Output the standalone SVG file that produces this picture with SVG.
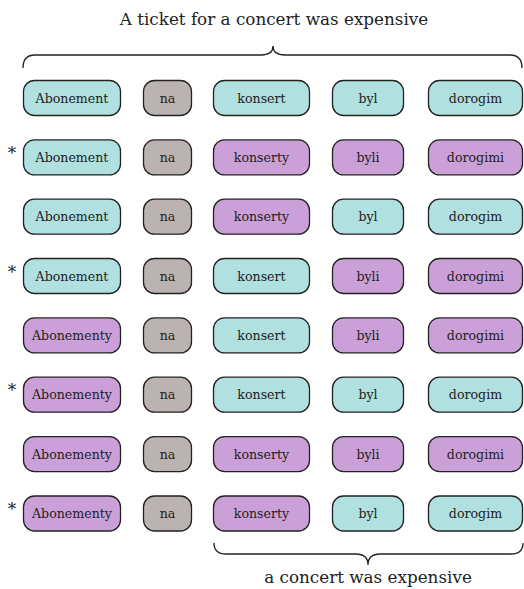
<svg xmlns="http://www.w3.org/2000/svg" width="524" height="589" viewBox="0 0 524 589">
<style>
text{font-family:'DejaVu Serif',serif;fill:#222}
.n rect{stroke:#222;stroke-width:1.3}
.n text{font-size:12.6px;text-anchor:middle;dominant-baseline:central}
.c{fill:#b0e0e0}
.p{fill:#cba0d8}
.g{fill:#bbb3b1}
.brace{fill:none;stroke:#222;stroke-width:1.3}
.ttl{font-size:16.8px;text-anchor:middle}
.ast{font-size:17px;text-anchor:middle}
</style>
<rect width="524" height="589" fill="#fff"/>
<text class="ttl" x="274" y="25">A ticket for a concert was expensive</text>
<text class="ttl" x="368" y="583">a concert was expensive</text>
<g id="connectors">
<path class="brace" d="M23,68 Q23,55 35,55 L261,55 Q273,55 273,46 Q273,55 285,55 L510,55 Q522,55 522,68"/>
<path class="brace" d="M214,543 Q214,554 226,554 L356,554 Q368,554 368,565 Q368,554 380,554 L511,554 Q523,554 523,543"/>
</g>
<g id="r1c1" class="n"><rect class="c" x="23.5" y="80.5" width="97" height="35" rx="11"/><text x="72" y="98">Abonement</text></g>
<g id="r1c2" class="n"><rect class="g" x="143.5" y="80.5" width="48" height="35" rx="11"/><text x="167.5" y="98">na</text></g>
<g id="r1c3" class="n"><rect class="c" x="213.5" y="80.5" width="96" height="35" rx="11"/><text x="261.5" y="98">konsert</text></g>
<g id="r1c4" class="n"><rect class="c" x="332.5" y="80.5" width="71" height="35" rx="11"/><text x="368" y="98">byl</text></g>
<g id="r1c5" class="n"><rect class="c" x="428.5" y="80.5" width="94" height="35" rx="11"/><text x="475.5" y="98">dorogim</text></g>
<text class="ast" x="12" y="159">*</text>
<g id="r2c1" class="n"><rect class="c" x="23.5" y="139.9" width="97" height="35" rx="11"/><text x="72" y="157.4">Abonement</text></g>
<g id="r2c2" class="n"><rect class="g" x="143.5" y="139.9" width="48" height="35" rx="11"/><text x="167.5" y="157.4">na</text></g>
<g id="r2c3" class="n"><rect class="p" x="213.5" y="139.9" width="96" height="35" rx="11"/><text x="261.5" y="157.4">konserty</text></g>
<g id="r2c4" class="n"><rect class="p" x="332.5" y="139.9" width="71" height="35" rx="11"/><text x="368" y="157.4">byli</text></g>
<g id="r2c5" class="n"><rect class="p" x="428.5" y="139.9" width="94" height="35" rx="11"/><text x="475.5" y="157.4">dorogimi</text></g>
<g id="r3c1" class="n"><rect class="c" x="23.5" y="199.2" width="97" height="35" rx="11"/><text x="72" y="216.7">Abonement</text></g>
<g id="r3c2" class="n"><rect class="g" x="143.5" y="199.2" width="48" height="35" rx="11"/><text x="167.5" y="216.7">na</text></g>
<g id="r3c3" class="n"><rect class="p" x="213.5" y="199.2" width="96" height="35" rx="11"/><text x="261.5" y="216.7">konserty</text></g>
<g id="r3c4" class="n"><rect class="c" x="332.5" y="199.2" width="71" height="35" rx="11"/><text x="368" y="216.7">byl</text></g>
<g id="r3c5" class="n"><rect class="c" x="428.5" y="199.2" width="94" height="35" rx="11"/><text x="475.5" y="216.7">dorogim</text></g>
<text class="ast" x="12" y="277.6">*</text>
<g id="r4c1" class="n"><rect class="c" x="23.5" y="258.5" width="97" height="35" rx="11"/><text x="72" y="276">Abonement</text></g>
<g id="r4c2" class="n"><rect class="g" x="143.5" y="258.5" width="48" height="35" rx="11"/><text x="167.5" y="276">na</text></g>
<g id="r4c3" class="n"><rect class="c" x="213.5" y="258.5" width="96" height="35" rx="11"/><text x="261.5" y="276">konsert</text></g>
<g id="r4c4" class="n"><rect class="p" x="332.5" y="258.5" width="71" height="35" rx="11"/><text x="368" y="276">byli</text></g>
<g id="r4c5" class="n"><rect class="p" x="428.5" y="258.5" width="94" height="35" rx="11"/><text x="475.5" y="276">dorogimi</text></g>
<g id="r5c1" class="n"><rect class="p" x="23.5" y="317.9" width="97" height="35" rx="11"/><text x="72" y="335.4">Abonementy</text></g>
<g id="r5c2" class="n"><rect class="g" x="143.5" y="317.9" width="48" height="35" rx="11"/><text x="167.5" y="335.4">na</text></g>
<g id="r5c3" class="n"><rect class="c" x="213.5" y="317.9" width="96" height="35" rx="11"/><text x="261.5" y="335.4">konsert</text></g>
<g id="r5c4" class="n"><rect class="p" x="332.5" y="317.9" width="71" height="35" rx="11"/><text x="368" y="335.4">byli</text></g>
<g id="r5c5" class="n"><rect class="p" x="428.5" y="317.9" width="94" height="35" rx="11"/><text x="475.5" y="335.4">dorogimi</text></g>
<text class="ast" x="12" y="396.3">*</text>
<g id="r6c1" class="n"><rect class="p" x="23.5" y="377.2" width="97" height="35" rx="11"/><text x="72" y="394.7">Abonementy</text></g>
<g id="r6c2" class="n"><rect class="g" x="143.5" y="377.2" width="48" height="35" rx="11"/><text x="167.5" y="394.7">na</text></g>
<g id="r6c3" class="n"><rect class="c" x="213.5" y="377.2" width="96" height="35" rx="11"/><text x="261.5" y="394.7">konsert</text></g>
<g id="r6c4" class="n"><rect class="c" x="332.5" y="377.2" width="71" height="35" rx="11"/><text x="368" y="394.7">byl</text></g>
<g id="r6c5" class="n"><rect class="c" x="428.5" y="377.2" width="94" height="35" rx="11"/><text x="475.5" y="394.7">dorogim</text></g>
<g id="r7c1" class="n"><rect class="p" x="23.5" y="436.6" width="97" height="35" rx="11"/><text x="72" y="454.1">Abonementy</text></g>
<g id="r7c2" class="n"><rect class="g" x="143.5" y="436.6" width="48" height="35" rx="11"/><text x="167.5" y="454.1">na</text></g>
<g id="r7c3" class="n"><rect class="p" x="213.5" y="436.6" width="96" height="35" rx="11"/><text x="261.5" y="454.1">konserty</text></g>
<g id="r7c4" class="n"><rect class="p" x="332.5" y="436.6" width="71" height="35" rx="11"/><text x="368" y="454.1">byli</text></g>
<g id="r7c5" class="n"><rect class="p" x="428.5" y="436.6" width="94" height="35" rx="11"/><text x="475.5" y="454.1">dorogimi</text></g>
<text class="ast" x="12" y="515.1">*</text>
<g id="r8c1" class="n"><rect class="p" x="23.5" y="496" width="97" height="35" rx="11"/><text x="72" y="513.5">Abonementy</text></g>
<g id="r8c2" class="n"><rect class="g" x="143.5" y="496" width="48" height="35" rx="11"/><text x="167.5" y="513.5">na</text></g>
<g id="r8c3" class="n"><rect class="p" x="213.5" y="496" width="96" height="35" rx="11"/><text x="261.5" y="513.5">konserty</text></g>
<g id="r8c4" class="n"><rect class="c" x="332.5" y="496" width="71" height="35" rx="11"/><text x="368" y="513.5">byl</text></g>
<g id="r8c5" class="n"><rect class="c" x="428.5" y="496" width="94" height="35" rx="11"/><text x="475.5" y="513.5">dorogim</text></g>
</svg>
